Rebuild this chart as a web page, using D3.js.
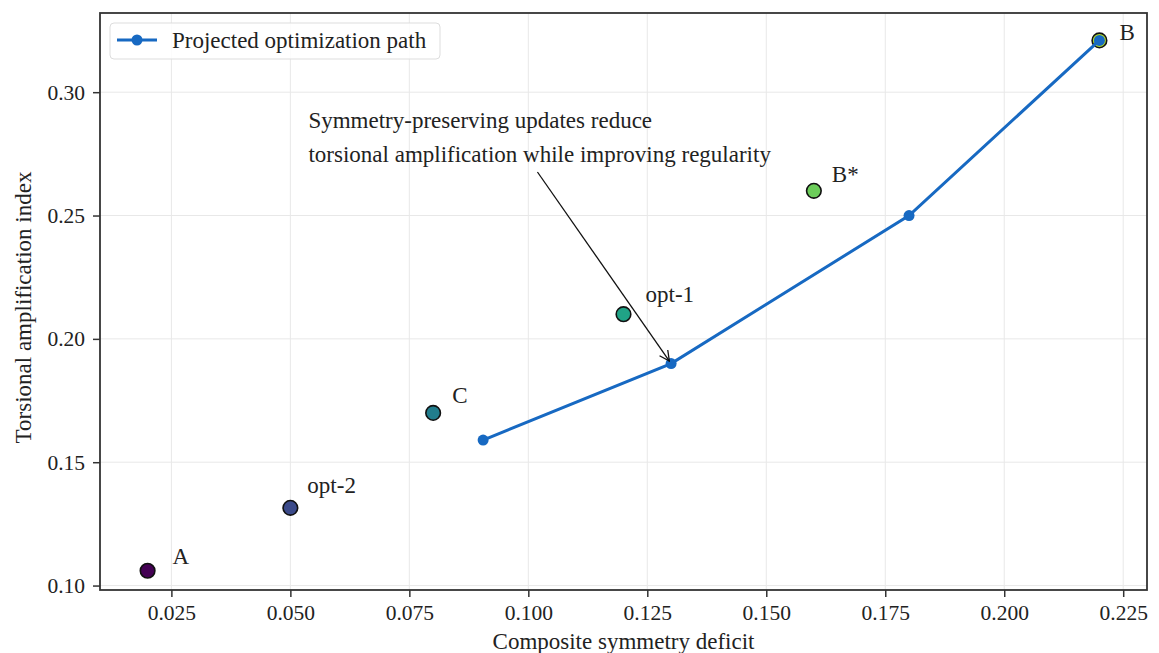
<!DOCTYPE html>
<html>
<head>
<meta charset="utf-8">
<script src="https://cdn.jsdelivr.net/npm/d3@7"></script>
<style>
	body { margin: 0; background: #fff; }
	text { font-family: "Liberation Serif", "DejaVu Serif", serif; fill: #222; }
</style>
</head>
<body>
<svg id="chart" width="1159" height="653"></svg>
<script>
// scatter of the named design points
var pointNames = ['A', 'opt-2', 'C', 'opt-1', 'B*', 'B'];
var pointX = [0.02, 0.05, 0.08, 0.12, 0.16, 0.22];
var pointY = [0.106, 0.1315, 0.170, 0.210, 0.260, 0.321];

// projected optimization path
var pathX = [0.0905, 0.13, 0.18, 0.22];
var pathY = [0.159, 0.190, 0.250, 0.321];

var xTicks = [0.025, 0.050, 0.075, 0.100, 0.125, 0.150, 0.175, 0.200, 0.225];
var yTicks = [0.10, 0.15, 0.20, 0.25, 0.30];

var annotationLines = ['Symmetry-preserving updates reduce',
	'torsional amplification while improving regularity'];

// styling
var pointColors = ['#440154', '#3b4a8a', '#217d8d', '#20a386', '#6ccd5a', '#b2dd2c'];
var labelOffsets = [[25, -7], [17, -15], [19, -10], [22, -12], [18, -9], [20, 0]];
var pathColor = '#1769c2';
var tickFont = 21.5;
var fontSize = 23;

var svg = d3.select('#chart');
var margin = { left: 100, top: 13, right: 12, bottom: 63 };
var W = 1159, H = 653;
var x0 = margin.left, x1 = W - margin.right, y0 = margin.top, y1 = H - margin.bottom;

var x = d3.scaleLinear().domain([0.01, 0.23]).range([x0, x1]);
var y = d3.scaleLinear().domain([0.0982, 0.3321]).range([y1, y0]);

// grid
var grid = svg.append('g');
grid.selectAll('.gx').data(xTicks).enter().append('line')
	.attr('x1', d => x(d)).attr('x2', d => x(d))
	.attr('y1', y0).attr('y2', y1)
	.attr('stroke', '#e8e8e8').attr('stroke-width', 1);
grid.selectAll('.gy').data(yTicks).enter().append('line')
	.attr('y1', d => y(d)).attr('y2', d => y(d))
	.attr('x1', x0).attr('x2', x1)
	.attr('stroke', '#e8e8e8').attr('stroke-width', 1);

// axes
var xAxis = svg.append('g')
	.attr('transform', 'translate(0,' + y1 + ')')
	.call(d3.axisBottom(x).tickValues(xTicks).tickFormat(d3.format('.3f')).tickSize(7).tickPadding(8));
var yAxis = svg.append('g')
	.attr('transform', 'translate(' + x0 + ',0)')
	.call(d3.axisLeft(y).tickValues(yTicks).tickFormat(d3.format('.2f')).tickSize(7).tickPadding(8));
[xAxis, yAxis].forEach(function (a) {
	a.select('.domain').remove();
	a.selectAll('line').attr('stroke', '#333').attr('stroke-width', 1.5);
	a.selectAll('text').style('font-size', tickFont + 'px')
		.style('font-family', '"Liberation Serif", serif').attr('fill', '#222');
});

// frame
svg.append('rect')
	.attr('x', x0).attr('y', y0)
	.attr('width', x1 - x0).attr('height', y1 - y0)
	.attr('fill', 'none').attr('stroke', '#333').attr('stroke-width', 1.8);

// axis titles
svg.append('text')
	.attr('x', (x0 + x1) / 2).attr('y', 649)
	.attr('text-anchor', 'middle')
	.style('font-size', fontSize + 'px')
	.text('Composite symmetry deficit');
svg.append('text')
	.attr('transform', 'translate(31,' + ((y0 + y1) / 2 + 6) + ') rotate(-90)')
	.attr('text-anchor', 'middle')
	.style('font-size', fontSize + 'px')
	.text('Torsional amplification index');

// scatter points
var pts = pointNames.map(function (n, i) { return { name: n, x: pointX[i], y: pointY[i], i: i }; });
svg.append('g').selectAll('circle').data(pts).enter().append('circle')
	.attr('cx', d => x(d.x)).attr('cy', d => y(d.y))
	.attr('r', 7.3)
	.attr('fill', d => pointColors[d.i])
	.attr('stroke', '#111').attr('stroke-width', 1.6);

svg.append('g').selectAll('text').data(pts).enter().append('text')
	.attr('x', d => x(d.x) + labelOffsets[d.i][0])
	.attr('y', d => y(d.y) + labelOffsets[d.i][1])
	.style('font-size', fontSize + 'px')
	.text(d => d.name);

// path
var pathData = pathX.map(function (v, i) { return [v, pathY[i]]; });
svg.append('path')
	.datum(pathData)
	.attr('d', d3.line().x(d => x(d[0])).y(d => y(d[1])))
	.attr('fill', 'none').attr('stroke', pathColor).attr('stroke-width', 3);
svg.append('g').selectAll('circle').data(pathData).enter().append('circle')
	.attr('cx', d => x(d[0])).attr('cy', d => y(d[1]))
	.attr('r', 5.5).attr('fill', pathColor);

// annotation
var ann = svg.append('text')
	.attr('x', x(0.0538)).attr('y', 128)
	.style('font-size', fontSize + 'px');
annotationLines.forEach(function (t, i) {
	ann.append('tspan').attr('x', x(0.0538)).attr('dy', i === 0 ? 0 : 34).text(t);
});

svg.append('defs').append('marker')
	.attr('id', 'arrowhead')
	.attr('viewBox', '0 0 12 12')
	.attr('refX', 11).attr('refY', 6)
	.attr('markerWidth', 12).attr('markerHeight', 12)
	.attr('markerUnits', 'userSpaceOnUse')
	.attr('orient', 'auto')
	.append('path')
	.attr('d', 'M1,1 L11,6 L1,11')
	.attr('fill', 'none').attr('stroke', '#111').attr('stroke-width', 1.3);

var tx = x(0.0538) + 229, ty = 172;
var hx = x(pathX[1]), hy = y(pathY[1]);
var dd = Math.hypot(hx - tx, hy - ty);
svg.append('line')
	.attr('x1', tx).attr('y1', ty)
	.attr('x2', hx - (hx - tx) / dd * 3).attr('y2', hy - (hy - ty) / dd * 3)
	.attr('stroke', '#111').attr('stroke-width', 1.3)
	.attr('marker-end', 'url(#arrowhead)');

// legend
var lg = svg.append('g');
lg.append('rect')
	.attr('x', 110).attr('y', 23).attr('width', 330).attr('height', 36)
	.attr('rx', 4).attr('fill', '#fff').attr('fill-opacity', 0.85)
	.attr('stroke', '#ddd').attr('stroke-width', 1);
lg.append('line')
	.attr('x1', 117).attr('x2', 157).attr('y1', 40).attr('y2', 40)
	.attr('stroke', pathColor).attr('stroke-width', 3);
lg.append('circle').attr('cx', 137).attr('cy', 40).attr('r', 5.5).attr('fill', pathColor);
lg.append('text').attr('x', 172).attr('y', 48)
	.style('font-size', fontSize + 'px')
	.text('Projected optimization path');
</script>
</body>
</html>
